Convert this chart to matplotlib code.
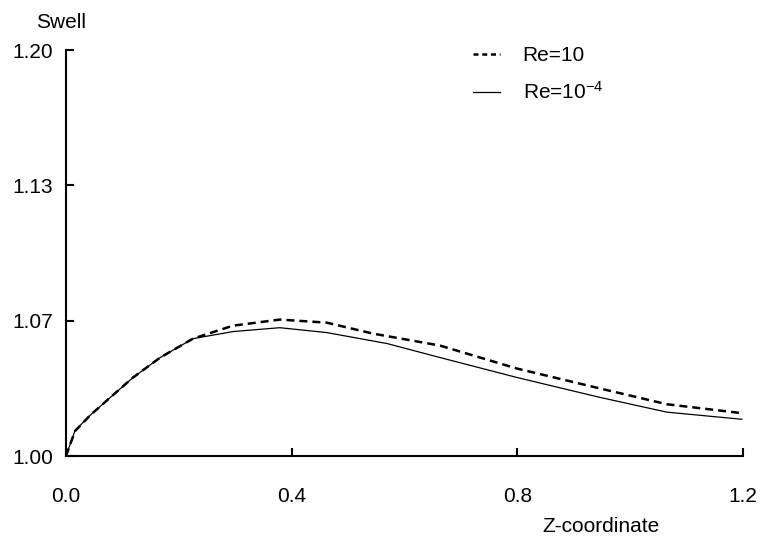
import numpy as np
import matplotlib
matplotlib.use("Agg")
import matplotlib.pyplot as plt

plt.rcParams['font.family'] = ['Liberation Sans', 'DejaVu Sans']
plt.rcParams['mathtext.fontset'] = 'custom'
plt.rcParams['mathtext.rm'] = 'Liberation Sans'
plt.rcParams['mathtext.it'] = 'Liberation Sans'

# swell along the die exit, two Reynolds numbers
z_re10 = [0.0, 0.016, 0.043, 0.073, 0.119, 0.167, 0.225, 0.296, 0.379, 0.462,
          0.544, 0.663, 0.799, 0.946, 1.065, 1.198]
swell_re10 = [1.000, 1.0123, 1.0201, 1.0275, 1.0387, 1.0485, 1.0578, 1.0642, 1.0672,
              1.0657, 1.0603, 1.0544, 1.0431, 1.0333, 1.0255, 1.0211]

z_re4 = [0.0, 0.016, 0.043, 0.073, 0.119, 0.167, 0.225, 0.296, 0.379, 0.462,
         0.569, 0.663, 0.799, 0.946, 1.065, 1.198]
swell_re4 = [1.000, 1.0125, 1.0201, 1.0275, 1.0387, 1.0485, 1.0578, 1.0613, 1.0632,
             1.0608, 1.0554, 1.0485, 1.0387, 1.0289, 1.0216, 1.0181]

xticks = [0.0, 0.4, 0.8, 1.2]
xticklabels = ["0.0", "0.4", "0.8", "1.2"]
yticks = [1.0, 1.0 + 0.2/3, 1.0 + 0.4/3, 1.2]
yticklabels = ["1.00", "1.07", "1.13", "1.20"]

FS = 15

fig = plt.figure(figsize=(7.62, 5.41), dpi=100)
ax = fig.add_axes([66/762, 1 - 456/541, (743 - 66)/762, (456 - 50)/541])

ax.plot(z_re10, swell_re10, color='black', lw=1.8, dashes=(3.2, 2.0), label='Re=10')
ax.plot(z_re4, swell_re4, color='black', lw=0.9, label='Re=10$^{-4}$')

ax.set_xlim(0, 1.2)
ax.set_ylim(1.0, 1.2)
ax.set_xticks(xticks)
ax.set_xticklabels(xticklabels)
ax.set_yticks(yticks)
ax.set_yticklabels(yticklabels)

for s in ['top', 'right']:
    ax.spines[s].set_visible(False)
for s in ['left', 'bottom']:
    ax.spines[s].set_linewidth(1.5)

ax.tick_params(axis='both', direction='in', length=6, width=1.5, labelsize=FS)
ax.tick_params(axis='x', pad=22)
ax.tick_params(axis='y', pad=9)

fig.text(36/762, 1 - 22/541, "Swell", fontsize=FS, ha='left', va='center')
fig.text(601/762, 1 - 527/541, "Z-coordinate", fontsize=FS, ha='center', va='center')

leg = ax.legend(loc='upper left', bbox_to_anchor=(0.573, 1.055), frameon=False,
                fontsize=FS, handlelength=1.3, handletextpad=1.1, labelspacing=0.75)
# shorter dashes in the legend sample so three fit
leg.get_lines()[0].set_dashes((2.0, 1.5))

fig.savefig("out.png", dpi=100)
